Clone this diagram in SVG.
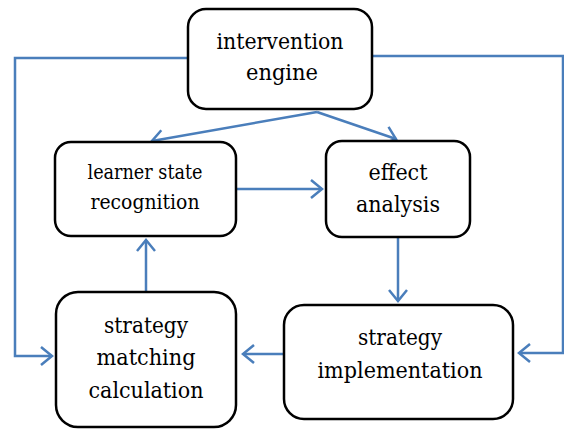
<svg xmlns="http://www.w3.org/2000/svg" width="564" height="429" viewBox="0 0 564 429">
<style>
.box{fill:#fff;stroke:#000;stroke-width:2.5}
text{font-family:'DejaVu Serif',serif;font-size:22px;fill:#000;text-anchor:middle}
.s{font-size:20px}
.c{fill:none;stroke:#4a7ebb;stroke-width:2.5;marker-end:url(#ah)}
</style>
<defs>
<marker id="ah" markerUnits="userSpaceOnUse" markerWidth="24" markerHeight="24" refX="0" refY="0" viewBox="-14 -12 16 24" orient="auto">
<path d="M-11,-9 L0,0 L-11,9" fill="none" stroke="#4a7ebb" stroke-width="2.5"/>
</marker>
</defs>
<rect width="564" height="429" fill="#fff"/>
<g id="connectors">
<path class="c" d="M188,58 H15 V356 H52"/>
<path class="c" d="M372,56 H563 V353 H519"/>
<path class="c" d="M317,112 L152,141"/>
<path class="c" d="M317,112 L396,139"/>
<path class="c" d="M236,189 H322"/>
<path class="c" d="M398,237 V301"/>
<path class="c" d="M284,354 H243"/>
<path class="c" d="M146,292 V240"/>
</g>
<g id="intervention-engine">
<rect class="box" x="188" y="9" width="184" height="100" rx="18"/>
<text x="280" y="49" textLength="127" lengthAdjust="spacingAndGlyphs">intervention</text>
<text x="282" y="80" textLength="72" lengthAdjust="spacingAndGlyphs">engine</text>
</g>
<g id="learner-state-recognition">
<rect class="box" x="55" y="142" width="181" height="94" rx="16"/>
<text class="s" x="145" y="179" textLength="115" lengthAdjust="spacingAndGlyphs">learner state</text>
<text class="s" x="145" y="209" textLength="109" lengthAdjust="spacingAndGlyphs">recognition</text>
</g>
<g id="effect-analysis">
<rect class="box" x="326" y="141" width="144" height="96" rx="16"/>
<text x="398" y="180" textLength="59" lengthAdjust="spacingAndGlyphs">effect</text>
<text x="398" y="212" textLength="84" lengthAdjust="spacingAndGlyphs">analysis</text>
</g>
<g id="strategy-matching-calculation">
<rect class="box" x="56" y="292" width="180" height="135" rx="22"/>
<text x="146" y="333" textLength="84" lengthAdjust="spacingAndGlyphs">strategy</text>
<text x="146" y="365" textLength="99" lengthAdjust="spacingAndGlyphs">matching</text>
<text x="146" y="398" textLength="115" lengthAdjust="spacingAndGlyphs">calculation</text>
</g>
<g id="strategy-implementation">
<rect class="box" x="284" y="305" width="229" height="114" rx="20"/>
<text x="400" y="345" textLength="84" lengthAdjust="spacingAndGlyphs">strategy</text>
<text x="400" y="378" textLength="165" lengthAdjust="spacingAndGlyphs">implementation</text>
</g>
</svg>
